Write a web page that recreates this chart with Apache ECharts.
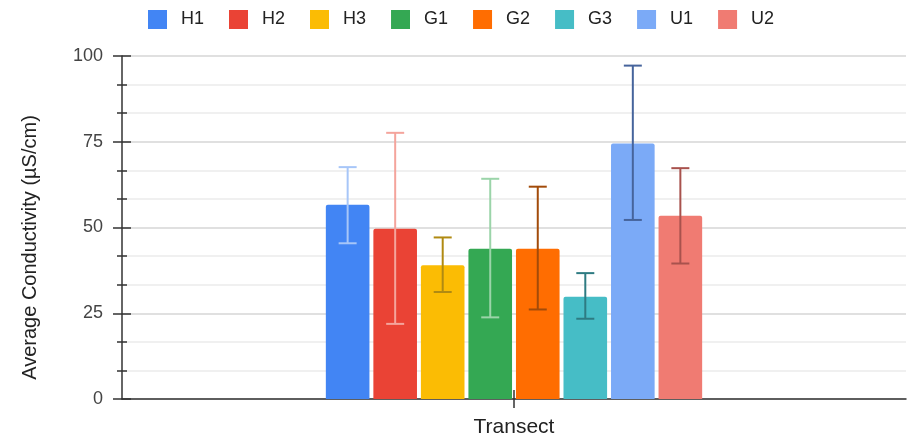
<!DOCTYPE html>
<html>
<head>
<meta charset="utf-8">
<script src="https://cdn.jsdelivr.net/npm/echarts@6/dist/echarts.min.js"></script>
<style>
html,body{margin:0;padding:0;background:#fff;}
#c{width:911px;height:439px;}
</style>
</head>
<body>
<div id="c"></div>
<script>
const categories = ['Transect'];
const seriesNames = ['H1', 'H2', 'H3', 'G1', 'G2', 'G3', 'U1', 'U2'];
const means = [56.6, 49.6, 39.0, 43.8, 43.8, 29.8, 74.5, 53.4];
const errLow = [45.4, 21.9, 31.2, 23.8, 26.1, 23.4, 52.2, 39.5];
const errHigh = [67.6, 77.6, 47.1, 64.2, 61.9, 36.7, 97.2, 67.3];
const yTicks = [0, 25, 50, 75, 100];

const barColors = ['#4285F4', '#EA4335', '#FBBC04', '#34A853', '#FF6D01', '#46BDC6', '#7BAAF7', '#F07B72'];
const errColors = ['#a7c6f8', '#f4a49c', '#b08a12', '#9bd4a9', '#a24b0a', '#2e7b82', '#46649c', '#a8524d'];

const CAT_GAP = 0.52, BAR_GAP = 0.09;
const FONT = '"Liberation Sans", Arial, sans-serif';

const chart = echarts.init(document.getElementById('c'), null, {renderer: 'canvas'});

const barSeries = seriesNames.map((n, i) => ({
  name: n,
  type: 'bar',
  xAxisIndex: 0, yAxisIndex: 0,
  data: [means[i]],
  itemStyle: {color: barColors[i], borderRadius: [2, 2, 0, 0]},
  barGap: (BAR_GAP * 100) + '%',
  barCategoryGap: (CAT_GAP * 100) + '%',
  emphasis: {disabled: true}
}));

const errData = seriesNames.map((n, i) => [0, errLow[i], errHigh[i], i]);

const errSeries = {
  type: 'custom',
  name: 'err',
  xAxisIndex: 0, yAxisIndex: 0,
  z: 10,
  encode: {x: 0, y: [1, 2]},
  data: errData,
  renderItem: function (params, api) {
    const idx = api.value(3);
    const n = seriesNames.length;
    const band = api.size([1, 0])[0];
    const remain = band * (1 - CAT_GAP);
    const w = remain / (n + (n - 1) * BAR_GAP);
    const total = n * w + (n - 1) * w * BAR_GAP;
    const lo = api.coord([api.value(0), api.value(1)]);
    const hi = api.coord([api.value(0), api.value(2)]);
    const cx = lo[0] - total / 2 + idx * w * (1 + BAR_GAP) + w / 2;
    const cap = 9;
    const style = {stroke: errColors[idx], lineWidth: 2, fill: null};
    return {
      type: 'group',
      children: [
        {type: 'line', shape: {x1: cx, y1: lo[1], x2: cx, y2: hi[1]}, style: style},
        {type: 'line', shape: {x1: cx - cap, y1: hi[1], x2: cx + cap, y2: hi[1]}, style: style},
        {type: 'line', shape: {x1: cx - cap, y1: lo[1], x2: cx + cap, y2: lo[1]}, style: style}
      ]
    };
  }
};

const yBase = {
  type: 'value',
  min: yTicks[0],
  max: yTicks[yTicks.length - 1],
  interval: yTicks[1] - yTicks[0],
  position: 'left'
};

const option = {
  animation: false,
  textStyle: {fontFamily: FONT},
  legend: {
    data: seriesNames,
    top: 5,
    left: 143,
    itemWidth: 19,
    itemHeight: 19,
    itemGap: 25,
    icon: 'rect',
    itemStyle: {borderRadius: 2},
    textStyle: {fontSize: 18, color: '#222', fontFamily: FONT, padding: [0, 0, 0, 9]},
    selectedMode: false
  },
  grid: {left: 122, right: 5, top: 56, bottom: 40, containLabel: false},
  xAxis: [
    {
      type: 'category',
      data: categories,
      position: 'bottom',
      axisLine: {lineStyle: {color: '#333', width: 1.5}},
      axisTick: {show: true, alignWithLabel: true, length: 9, lineStyle: {color: '#333', width: 1.5}},
      axisLabel: {fontSize: 21, color: '#222', margin: 18, fontFamily: FONT},
      splitLine: {show: false}
    },
    {
      type: 'category',
      data: categories,
      position: 'bottom',
      axisLine: {show: false},
      axisTick: {show: true, inside: true, alignWithLabel: true, length: 9, lineStyle: {color: '#333', width: 1.5}},
      axisLabel: {show: false},
      splitLine: {show: false}
    }
  ],
  yAxis: [
    Object.assign({}, yBase, {
      name: 'Average Conductivity (µS/cm)',
      nameLocation: 'middle',
      nameGap: 82,
      nameTextStyle: {fontSize: 20, color: '#222', fontFamily: FONT, padding: [0, 40, 0, 0]},
      axisLine: {show: true, lineStyle: {color: '#333', width: 1.5}},
      axisTick: {show: true, length: 9, lineStyle: {color: '#333', width: 1.5}},
      minorTick: {show: true, splitNumber: 3, length: 5, lineStyle: {color: '#333', width: 1.5}},
      axisLabel: {fontSize: 18, color: '#444', margin: 19, fontFamily: FONT},
      splitLine: {show: true, lineStyle: {color: '#d6d6d6', width: 1.5}},
      minorSplitLine: {show: true, lineStyle: {color: '#ebebeb', width: 1.5}}
    }),
    Object.assign({}, yBase, {
      axisLine: {show: false},
      axisTick: {show: true, inside: true, length: 9, lineStyle: {color: '#333', width: 1.5}},
      minorTick: {show: true, splitNumber: 3, length: 5, lineStyle: {color: '#333', width: 1.5}},
      axisLabel: {show: false},
      splitLine: {show: false},
      minorSplitLine: {show: false}
    })
  ],
  series: barSeries.concat([errSeries])
};

chart.setOption(option);
</script>
</body>
</html>
